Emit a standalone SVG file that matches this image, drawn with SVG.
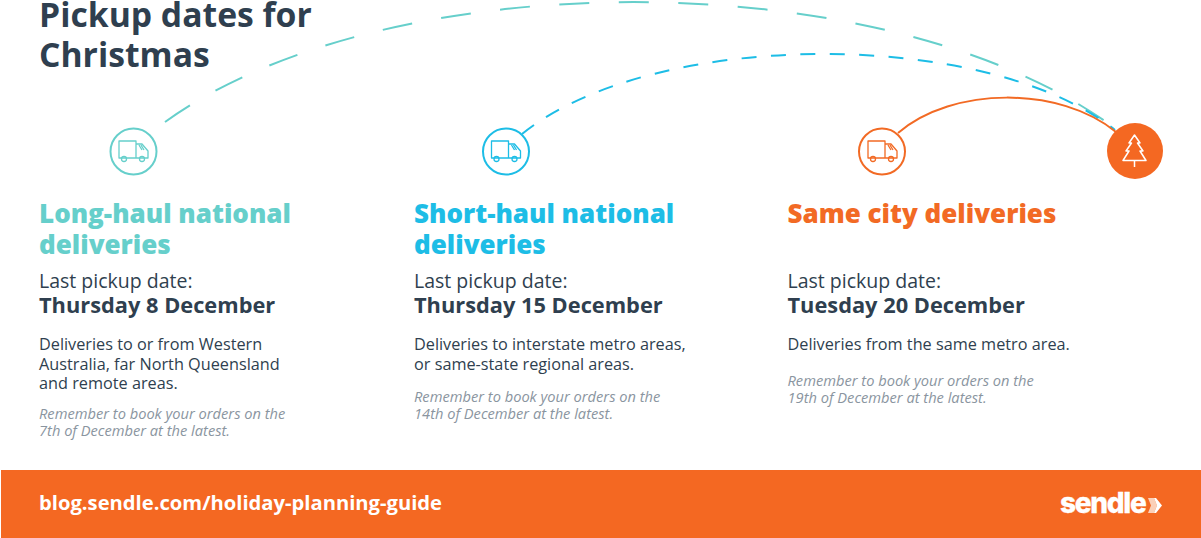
<svg xmlns="http://www.w3.org/2000/svg" width="1201" height="538" viewBox="0 0 1201 538">
<style>
text{font-family:"Open Sans","DejaVu Sans",sans-serif;fill:#2f3f4f}
.title{font-size:33.7px;font-weight:700}
.h{font-size:26px;font-weight:800}
.l{font-size:19.500px}
.d{font-size:21.800px;font-weight:700}
.p{font-size:16.250px}
.n{font-size:14.650px;font-style:italic;fill:#8a95a0}
.ic{fill:none;stroke-width:1.300;stroke-linejoin:round}
.ring{fill:#fff;stroke-width:2}
.tl{stroke:#66cfcb}.bl{stroke:#1dbde6}.or{stroke:#f26a24}
.c{fill:none;stroke-width:2}
</style>
<defs>
<g id="truck" class="ic">
<path d="M-14-10H3V7H-14ZM3-7H9L15 0V7H3M-14 7H-12M-6 7H6M12 7H15"/>
<path d="M8-6L11-1M6-6L9-1"/>
<circle cx="-9" cy="8" r="2.500"/><circle cx="9" cy="8" r="2.500"/>
</g>
</defs>
<rect x="1" y="470" width="1200" height="68" fill="#f46822"/>
<g id="connectors">
<path class="c tl" stroke-dasharray="30 29.500" d="M165 122C388 -39 890 -39 1116 129"/>
<path class="c bl" stroke-dasharray="15 14.400" d="M522 134C652 29 985 27 1115 130"/>
<path class="c or" d="M898 133C953 86 1060 86 1116 132"/>
</g>
<g id="title"><text class="title" x="39" y="27">Pickup dates for</text><text class="title" x="39" y="66.500">Christmas</text></g>
<g id="node-long">
<circle class="ring tl" cx="133.500" cy="151.500" r="23"/><use href="#truck" x="133" y="151" class="tl"/>
<text class="h" x="39" y="222.700" style="fill:#66cfcb">Long-haul national</text><text class="h" x="39" y="253.700" style="fill:#66cfcb">deliveries</text>
<text class="l" x="39" y="288">Last pickup date:</text><text class="d" x="39" y="313">Thursday 8 December</text>
<text class="p" x="39" y="350">Deliveries to or from Western</text><text class="p" x="39" y="370">Australia, far North Queensland</text><text class="p" x="39" y="389">and remote areas.</text>
<text class="n" x="39" y="419">Remember to book your orders on the</text><text class="n" x="39" y="436">7th of December at the latest.</text>
</g>
<g id="node-short">
<circle class="ring bl" cx="506" cy="151.500" r="23"/><use href="#truck" x="505.500" y="151" class="bl"/>
<text class="h" x="414" y="222.700" style="fill:#1dbde6">Short-haul national</text><text class="h" x="414" y="253.700" style="fill:#1dbde6">deliveries</text>
<text class="l" x="414" y="288">Last pickup date:</text><text class="d" x="414" y="313">Thursday 15 December</text>
<text class="p" x="414" y="350">Deliveries to interstate metro areas,</text><text class="p" x="414" y="370">or same-state regional areas.</text>
<text class="n" x="414" y="402">Remember to book your orders on the</text><text class="n" x="414" y="419">14th of December at the latest.</text>
</g>
<g id="node-same">
<circle class="ring or" cx="882" cy="151.500" r="23"/><use href="#truck" x="882" y="151" class="or"/>
<text class="h" x="787.500" y="222.700" style="fill:#f26a24">Same city deliveries</text>
<text class="l" x="787.500" y="288">Last pickup date:</text><text class="d" x="787.500" y="313">Tuesday 20 December</text>
<text class="p" x="787.500" y="350">Deliveries from the same metro area.</text>
<text class="n" x="787.500" y="386">Remember to book your orders on the</text><text class="n" x="787.500" y="403">19th of December at the latest.</text>
</g>
<g id="node-christmas">
<circle cx="1135" cy="151" r="28" fill="#f46822"/>
<path d="M1134.500 135L1140 143H1137.500L1143 151H1140L1146 160.500H1123L1129 151H1126L1131.500 143H1129ZM1134.500 160.500V167" fill="none" stroke="#fff" stroke-width="1.500" stroke-linejoin="round"/>
</g>
<g id="footer">
<text x="39" y="510" style="fill:#fff;font-size:20.200px;font-weight:700">blog.sendle.com/holiday-planning-guide</text>
<text x="1060" y="513" style="fill:#fff;stroke:#fff;stroke-width:.3px;font-size:28px;font-weight:800;letter-spacing:-1.300px;font-family:Inter,'Open Sans',sans-serif">sendle</text>
<path d="M1148 498H1154L1157 505.500L1154 513H1148L1151 505.500Z" fill="#fbd0b8"/>
<path d="M1154 498H1156L1162 505.500L1156 513H1154L1157 505.500Z" fill="#fff"/>
</g>
</svg>
